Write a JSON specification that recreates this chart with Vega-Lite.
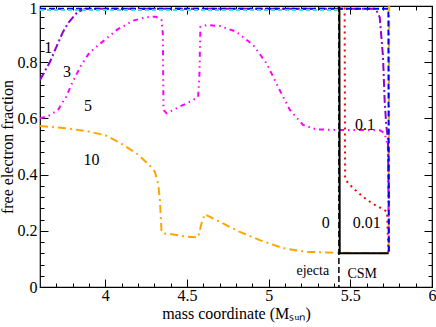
{
  "$schema": "https://vega.github.io/schema/vega-lite/v6.json",
  "width": 392,
  "height": 281,
  "autosize": {"type": "none"},
  "padding": {"left": 40, "top": 6, "right": 4, "bottom": 40},
  "background": "white",
  "config": {
    "view": {"stroke": "black", "strokeWidth": 1.2},
    "font": "Liberation Serif, Times New Roman, serif",
    "axis": {"labelFont": "Liberation Serif, Times New Roman, serif", "titleFont": "Liberation Serif, Times New Roman, serif", "labelFontSize": 16, "titleFontSize": 16, "titleFontWeight": "normal", "labelColor": "black", "titleColor": "black", "tickColor": "black", "tickWidth": 1, "grid": false, "domain": false}
  },
  "resolve": {"axis": {"x": "independent", "y": "independent"}},
  "layer": [
    {
      "data": {"values": [
        {"s": "orange", "x": 3.6, "y": 0.573}, {"s": "orange", "x": 3.763, "y": 0.565}, {"s": "orange", "x": 3.9, "y": 0.553}, {"s": "orange", "x": 4.0, "y": 0.54}, {"s": "orange", "x": 4.09, "y": 0.513}, {"s": "orange", "x": 4.19, "y": 0.476}, {"s": "orange", "x": 4.27, "y": 0.434}, {"s": "orange", "x": 4.303, "y": 0.41}, {"s": "orange", "x": 4.323, "y": 0.369}, {"s": "orange", "x": 4.334, "y": 0.31}, {"s": "orange", "x": 4.344, "y": 0.197}, {"s": "orange", "x": 4.36, "y": 0.19}, {"s": "orange", "x": 4.395, "y": 0.189}, {"s": "orange", "x": 4.497, "y": 0.179}, {"s": "orange", "x": 4.568, "y": 0.177}, {"s": "orange", "x": 4.589, "y": 0.227}, {"s": "orange", "x": 4.609, "y": 0.259}, {"s": "orange", "x": 4.7, "y": 0.232}, {"s": "orange", "x": 4.82, "y": 0.197}, {"s": "orange", "x": 4.945, "y": 0.167}, {"s": "orange", "x": 5.09, "y": 0.138}, {"s": "orange", "x": 5.23, "y": 0.125}, {"s": "orange", "x": 5.415, "y": 0.122}, {"s": "orange", "x": 5.735, "y": 0.12}, {"s": "orange", "x": 5.738, "y": 1.0},
        {"s": "magenta", "x": 3.6, "y": 0.6}, {"s": "magenta", "x": 3.649, "y": 0.608}, {"s": "magenta", "x": 3.71, "y": 0.63}, {"s": "magenta", "x": 3.76, "y": 0.677}, {"s": "magenta", "x": 3.8, "y": 0.73}, {"s": "magenta", "x": 3.853, "y": 0.79}, {"s": "magenta", "x": 3.904, "y": 0.835}, {"s": "magenta", "x": 3.96, "y": 0.862}, {"s": "magenta", "x": 4.07, "y": 0.915}, {"s": "magenta", "x": 4.17, "y": 0.948}, {"s": "magenta", "x": 4.25, "y": 0.96}, {"s": "magenta", "x": 4.31, "y": 0.962}, {"s": "magenta", "x": 4.344, "y": 0.95}, {"s": "magenta", "x": 4.352, "y": 0.9}, {"s": "magenta", "x": 4.356, "y": 0.63}, {"s": "magenta", "x": 4.375, "y": 0.618}, {"s": "magenta", "x": 4.456, "y": 0.642}, {"s": "magenta", "x": 4.537, "y": 0.665}, {"s": "magenta", "x": 4.568, "y": 0.677}, {"s": "magenta", "x": 4.576, "y": 0.75}, {"s": "magenta", "x": 4.582, "y": 0.926}, {"s": "magenta", "x": 4.62, "y": 0.932}, {"s": "magenta", "x": 4.7, "y": 0.929}, {"s": "magenta", "x": 4.8, "y": 0.909}, {"s": "magenta", "x": 4.905, "y": 0.861}, {"s": "magenta", "x": 4.987, "y": 0.796}, {"s": "magenta", "x": 5.068, "y": 0.7}, {"s": "magenta", "x": 5.13, "y": 0.63}, {"s": "magenta", "x": 5.21, "y": 0.577}, {"s": "magenta", "x": 5.29, "y": 0.561}, {"s": "magenta", "x": 5.415, "y": 0.559}, {"s": "magenta", "x": 5.68, "y": 0.558}, {"s": "magenta", "x": 5.71, "y": 0.547}, {"s": "magenta", "x": 5.73, "y": 0.5}, {"s": "magenta", "x": 5.736, "y": 0.12},
        {"s": "violet", "x": 3.6, "y": 0.737}, {"s": "violet", "x": 3.66, "y": 0.8}, {"s": "violet", "x": 3.714, "y": 0.873}, {"s": "violet", "x": 3.74, "y": 0.907}, {"s": "violet", "x": 3.777, "y": 0.943}, {"s": "violet", "x": 3.83, "y": 0.979}, {"s": "violet", "x": 3.88, "y": 0.99}, {"s": "violet", "x": 5.655, "y": 0.99}, {"s": "violet", "x": 5.68, "y": 0.96}, {"s": "violet", "x": 5.7, "y": 0.82}, {"s": "violet", "x": 5.71, "y": 0.665}, {"s": "violet", "x": 5.72, "y": 0.575}, {"s": "violet", "x": 5.73, "y": 0.53}, {"s": "violet", "x": 5.736, "y": 0.3},
        {"s": "red", "x": 3.6, "y": 1.0}, {"s": "red", "x": 5.465, "y": 1.0}, {"s": "red", "x": 5.468, "y": 0.39}, {"s": "red", "x": 5.48, "y": 0.375}, {"s": "red", "x": 5.52, "y": 0.35}, {"s": "red", "x": 5.58, "y": 0.32}, {"s": "red", "x": 5.64, "y": 0.295}, {"s": "red", "x": 5.69, "y": 0.28}, {"s": "red", "x": 5.725, "y": 0.268}, {"s": "red", "x": 5.733, "y": 0.12},
        {"s": "blue", "x": 3.6, "y": 0.99}, {"s": "blue", "x": 5.733, "y": 0.99}, {"s": "blue", "x": 5.736, "y": 0.12},
        {"s": "turquoise", "x": 3.6, "y": 0.986}, {"s": "turquoise", "x": 5.43, "y": 0.986},
        {"s": "black", "x": 3.6, "y": 1.0}, {"s": "black", "x": 5.433, "y": 1.0}, {"s": "black", "x": 5.435, "y": 0.12}, {"s": "black", "x": 5.735, "y": 0.12}
      ]},
      "mark": {"type": "line", "strokeWidth": 2, "clip": true},
      "encoding": {
        "x": {"field": "x", "type": "quantitative", "scale": {"domain": [3.6, 6], "nice": false, "zero": false},
              "axis": {"orient": "bottom", "values": [4, 4.5, 5, 5.5, 6], "format": "~g", "tickSize": -8, "labelPadding": 8, "labelFlush": false, "title": "mass coordinate (Mₛᵤₙ)", "titlePadding": 2}},
        "y": {"field": "y", "type": "quantitative", "scale": {"domain": [0, 1], "nice": false, "zero": false},
              "axis": {"orient": "left", "values": [0, 0.2, 0.4, 0.6, 0.8, 1], "format": "~g", "tickSize": -8, "labelPadding": 11, "labelFlush": false, "labelOffset": {"condition": {"test": "datum.value == 1", "value": 2}, "value": 0}, "title": "free electron fraction", "titlePadding": 2}},
        "color": {"field": "s", "type": "nominal", "legend": null,
                  "scale": {"domain": ["orange", "magenta", "violet", "red", "blue", "turquoise", "black"], "range": ["#ffa500", "#ff00ff", "#9400d3", "#ff0000", "#0000ff", "#40e0d0", "#000000"]}},
        "strokeDash": {"field": "s", "type": "nominal", "legend": null,
                  "scale": {"domain": ["orange", "magenta", "violet", "red", "blue", "turquoise", "black"], "range": [[8, 4, 2, 4], [5, 4, 1.5, 4, 1.5, 4], [8, 3, 2, 3], [2, 4], [6, 3], [4, 3], [1, 0]]}}
      }
    },
    {
      "data": {"values": [{"x": 5.43}]},
      "mark": {"type": "rule", "color": "black", "strokeWidth": 1.5, "strokeDash": [6, 3]},
      "encoding": {
        "x": {"field": "x", "type": "quantitative", "scale": {"domain": [3.6, 6], "nice": false, "zero": false},
              "axis": {"orient": "bottom", "values": [3.7, 3.8, 3.9, 4.1, 4.2, 4.3, 4.4, 4.6, 4.7, 4.8, 4.9, 5.1, 5.2, 5.3, 5.4, 5.6, 5.7, 5.8, 5.9], "tickSize": -4, "labels": false, "title": null}}
      }
    },
    {
      "data": {"values": [
        {"t": "1", "x": 3.65, "y": 0.85}, {"t": "3", "x": 3.765, "y": 0.765}, {"t": "5", "x": 3.894, "y": 0.643}, {"t": "10", "x": 3.916, "y": 0.452},
        {"t": "0.1", "x": 5.59, "y": 0.575}, {"t": "0.01", "x": 5.6, "y": 0.229}, {"t": "0", "x": 5.35, "y": 0.229}
      ]},
      "mark": {"type": "text", "font": "Liberation Serif, Times New Roman, serif", "fontSize": 16, "color": "black", "align": "center", "baseline": "middle"},
      "encoding": {
        "x": {"field": "x", "type": "quantitative", "scale": {"domain": [3.6, 6], "nice": false, "zero": false},
              "axis": {"orient": "top", "values": [4, 4.5, 5, 5.5, 6], "tickSize": -8, "labels": false, "title": null}},
        "y": {"field": "y", "type": "quantitative", "scale": {"domain": [0, 1], "nice": false, "zero": false},
              "axis": {"orient": "left", "values": [0.04, 0.08, 0.12, 0.16, 0.24, 0.28, 0.32, 0.36, 0.44, 0.48, 0.52, 0.56, 0.64, 0.68, 0.72, 0.76, 0.84, 0.88, 0.92, 0.96], "tickSize": -4, "labels": false, "title": null}},
        "text": {"field": "t"}
      }
    },
    {
      "data": {"values": [{"t": "ejecta", "x": 5.27, "y": 0.058}, {"t": "CSM", "x": 5.573, "y": 0.045}]},
      "mark": {"type": "text", "font": "Liberation Serif, Times New Roman, serif", "fontSize": 14, "color": "black", "align": "center", "baseline": "middle"},
      "encoding": {
        "x": {"field": "x", "type": "quantitative", "scale": {"domain": [3.6, 6], "nice": false, "zero": false},
              "axis": {"orient": "top", "values": [3.7, 3.8, 3.9, 4.1, 4.2, 4.3, 4.4, 4.6, 4.7, 4.8, 4.9, 5.1, 5.2, 5.3, 5.4, 5.6, 5.7, 5.8, 5.9], "tickSize": -4, "labels": false, "title": null}},
        "y": {"field": "y", "type": "quantitative", "scale": {"domain": [0, 1], "nice": false, "zero": false},
              "axis": {"orient": "right", "values": [0, 0.2, 0.4, 0.6, 0.8, 1], "tickSize": -8, "labels": false, "title": null}},
        "text": {"field": "t"}
      }
    },
    {
      "data": {"values": [{"x": 3.6, "y": 0}]},
      "mark": {"type": "point", "opacity": 0},
      "encoding": {
        "x": {"field": "x", "type": "quantitative", "scale": {"domain": [3.6, 6], "nice": false, "zero": false}, "axis": null},
        "y": {"field": "y", "type": "quantitative", "scale": {"domain": [0, 1], "nice": false, "zero": false},
              "axis": {"orient": "right", "values": [0.04, 0.08, 0.12, 0.16, 0.24, 0.28, 0.32, 0.36, 0.44, 0.48, 0.52, 0.56, 0.64, 0.68, 0.72, 0.76, 0.84, 0.88, 0.92, 0.96], "tickSize": -4, "labels": false, "title": null}}
      }
    }
  ]
}
